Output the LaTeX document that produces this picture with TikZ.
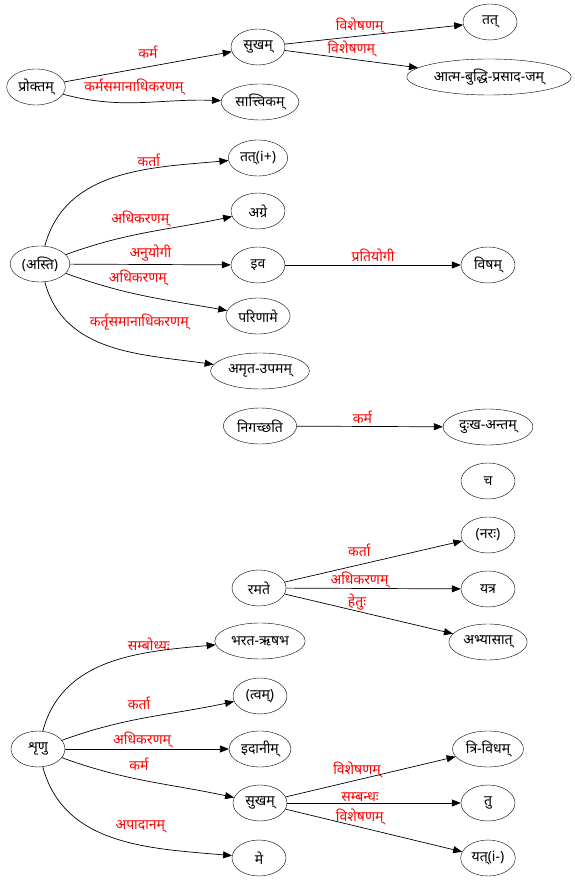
\documentclass[tikz,border=0pt]{standalone}
\usepackage{fontspec}
\setmainfont[Script=Devanagari]{Noto Sans}
\usetikzlibrary{arrows.meta,shapes.geometric,positioning}
\definecolor{relRed}{HTML}{FF0000}

\begin{document}
\begin{tikzpicture}[
  x=1pt, y=1pt,
  font=\fontsize{14}{16}\selectfont,
  tok/.style={draw,ellipse,minimum width=54pt,minimum height=36pt,inner xsep=3pt,inner ysep=0pt},
  dep/.style={-{Triangle[length=9pt,width=7pt]},line width=0.7pt},
  rel/.style={text=relRed,inner sep=1pt}
]
  \useasboundingbox (0,0) rectangle (574,881);

  % sentence 1
  \node[tok] (proktam) at (36,794) {प्रोक्तम्};
  \node[tok] (sukhamA) at (258,834) {सुखम्};
  \node[tok] (tat) at (490,859) {तत्};
  \node[tok] (atma) at (489,804) {आत्म-बुद्धि-प्रसाद-जम्};
  \node[tok] (sattvikam) at (260,779) {सात्त्विकम्};
  \draw[dep] (proktam) -- node[rel,above=7pt] {कर्म} (sukhamA);
  \draw[dep] (proktam) to[out=-15,in=178] node[rel,pos=0.45,above=6pt] {कर्मसमानाधिकरणम्} (sattvikam);
  \draw[dep] (sukhamA) -- node[rel,pos=0.42,above=1pt] {विशेषणम्} (tat);
  \draw[dep] (sukhamA) -- node[rel,pos=0.5,above=1pt] {विशेषणम्} (atma);

  % sentence 2
  \node[tok] (asti) at (40,617) {(अस्ति)};
  \node[tok] (tati) at (258,723) {तत्(i+)};
  \node[tok] (agre) at (258,670) {अग्रे};
  \node[tok] (iva) at (258,616) {इव};
  \node[tok] (visham) at (488,616) {विषम्};
  \node[tok] (parinaame) at (258,565) {परिणामे};
  \node[tok] (amrta) at (260,510) {अमृत-उपमम्};
  \draw[dep] (asti) to[out=75,in=185] node[rel,pos=0.66,above=1pt] {कर्ता} (tati);
  \draw[dep] (asti) to[out=20,in=192] node[rel,pos=0.45,above=5pt] {अधिकरणम्} (agre);
  \draw[dep] (asti) -- node[rel,above=2pt] {अनुयोगी} (iva);
  \draw[dep] (asti) to[out=-20,in=170] node[rel,pos=0.45,above=7pt] {अधिकरणम्} (parinaame);
  \draw[dep] (asti) to[out=-75,in=172] node[rel,pos=0.6,above=20pt,xshift=11pt] {कर्तृसमानाधिकरणम्} (amrta);
  \draw[dep] (iva) -- node[rel,above=2pt] {प्रतियोगी} (visham);

  % sentence 3
  \node[tok] (nigacchati) at (260,455) {निगच्छति};
  \node[tok] (duhkha) at (488,454) {दुःख-अन्तम्};
  \node[tok] (ca) at (488,400) {च};
  \draw[dep] (nigacchati) -- node[rel,pos=0.45,above=2pt] {कर्म} (duhkha);

  % sentence 4
  \node[tok] (ramate) at (259,293) {रमते};
  \node[tok] (narah) at (488,346) {(नरः)};
  \node[tok] (yatra) at (488,292) {यत्र};
  \node[tok] (abhyasat) at (488,239) {अभ्यासात्};
  \draw[dep] (ramate) -- node[rel,pos=0.42,above=7pt] {कर्ता} (narah);
  \draw[dep] (ramate) -- node[rel,pos=0.42,above=-1pt] {अधिकरणम्} (yatra);
  \draw[dep] (ramate) -- node[rel,pos=0.43,above=0pt] {हेतुः} (abhyasat);

  % sentence 5
  \node[tok] (shrnu) at (38,132) {शृणु};
  \node[tok] (bharata) at (260,240) {भरत-ऋषभ};
  \node[tok] (tvam) at (260,185) {(त्वम्)};
  \node[tok] (idanim) at (260,132) {इदानीम्};
  \node[tok] (sukhamB) at (260,78) {सुखम्};
  \node[tok] (me) at (259,23) {मे};
  \node[tok] (trividham) at (488,132) {त्रि-विधम्};
  \node[tok] (tu) at (488,78) {तु};
  \node[tok] (yati) at (488,23) {यत्(i-)};
  \draw[dep] (shrnu) to[out=75,in=185] node[rel,pos=0.7,above=1pt] {सम्बोध्यः} (bharata);
  \draw[dep] (shrnu) to[out=20,in=192] node[rel,pos=0.45,above=8pt] {कर्ता} (tvam);
  \draw[dep] (shrnu) -- node[rel,pos=0.47,above=0pt] {अधिकरणम्} (idanim);
  \draw[dep] (shrnu) to[out=-20,in=168] node[rel,pos=0.45,above=8pt] {कर्म} (sukhamB);
  \draw[dep] (shrnu) to[out=-75,in=175] node[rel,pos=0.6,above=10pt,xshift=4pt] {अपादानम्} (me);
  \draw[dep] (sukhamB) -- node[rel,pos=0.42,above=1pt] {विशेषणम्} (trividham);
  \draw[dep] (sukhamB) -- node[rel,pos=0.42,above=0pt] {सम्बन्धः} (tu);
  \draw[dep] (sukhamB) -- node[rel,pos=0.42,above=1pt] {विशेषणम्} (yati);
\end{tikzpicture}
\end{document}
